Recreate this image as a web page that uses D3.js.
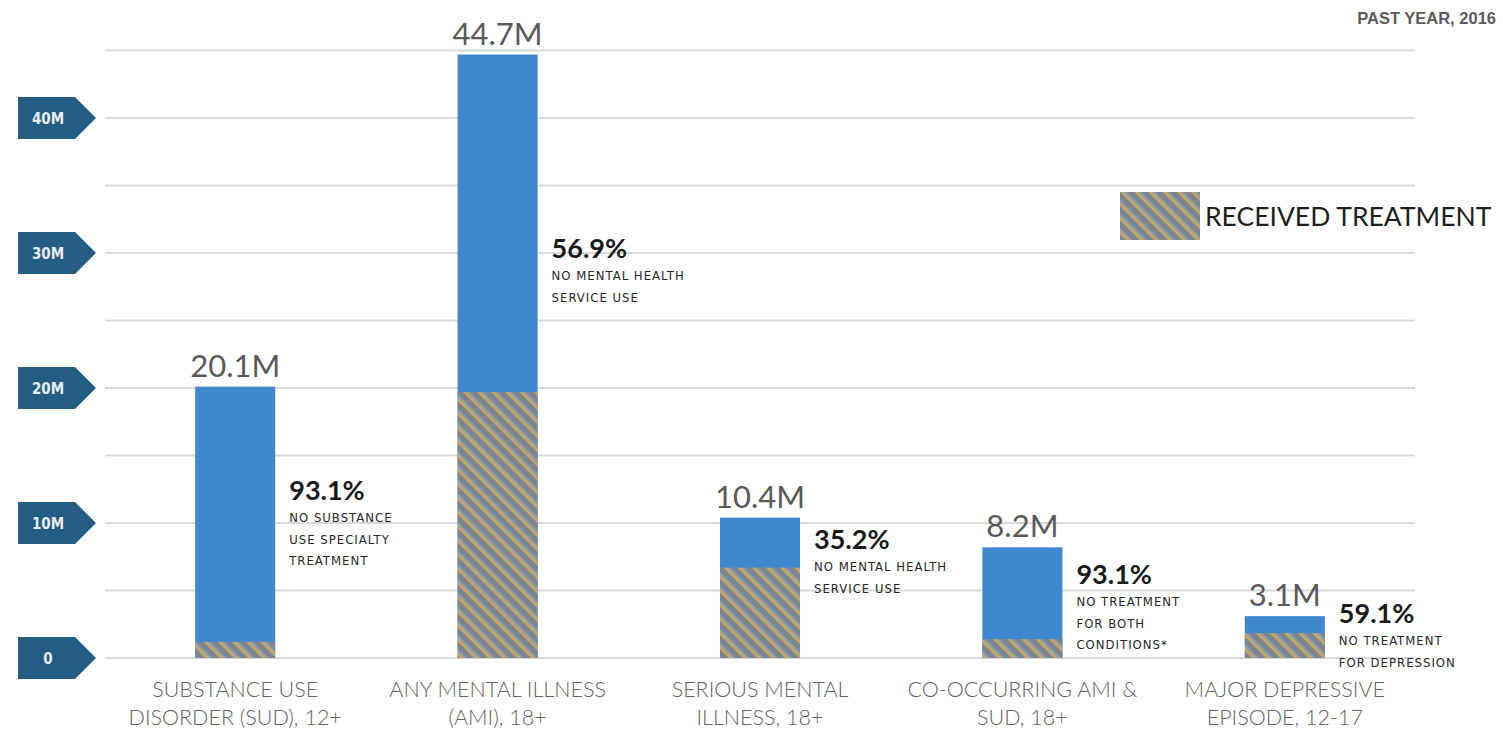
<!DOCTYPE html>
<html>
<head>
<meta charset="utf-8">
<script src="https://cdn.jsdelivr.net/npm/d3@7"></script>
<style>
  html, body { margin: 0; padding: 0; background: #fff; }
  svg { display: block; }
</style>
</head>
<body>
<svg id="chart" width="1503" height="731"></svg>
<script>
// Populations with a condition, past year 2016 (millions)
const categories = ["SUD", "AMI", "SMI", "COAMI", "MDE"];
const categoryLines = [
  ["SUBSTANCE USE", "DISORDER (SUD), 12+"],
  ["ANY MENTAL ILLNESS", "(AMI), 18+"],
  ["SERIOUS MENTAL", "ILLNESS, 18+"],
  ["CO-OCCURRING AMI &", "SUD, 18+"],
  ["MAJOR DEPRESSIVE", "EPISODE, 12-17"]
];
const totals = [20.1, 44.7, 10.4, 8.2, 3.1];
const totalLabels = ["20.1M", "44.7M", "10.4M", "8.2M", "3.1M"];
const treated = [1.2, 19.7, 6.7, 1.4, 1.85];
const untreatedPct = ["93.1%", "56.9%", "35.2%", "93.1%", "59.1%"];
const notes = [
  ["NO SUBSTANCE", "USE SPECIALTY", "TREATMENT"],
  ["NO MENTAL HEALTH", "SERVICE USE"],
  ["NO MENTAL HEALTH", "SERVICE USE"],
  ["NO TREATMENT", "FOR BOTH", "CONDITIONS*"],
  ["NO TREATMENT", "FOR DEPRESSION"]
];
const yTicks = [0, 10, 20, 30, 40];
const yTickLabels = ["0", "10M", "20M", "30M", "40M"];
const gridValues = [0, 5, 10, 15, 20, 25, 30, 35, 40, 45];

const svg = d3.select("#chart");
const blue = "#3f87cf";
const navy = "#245d84";
const gray = "#595959";

// Hatched fill for the treated share
const defs = svg.append("defs");
const pat = defs.append("pattern")
  .attr("id", "hatch")
  .attr("patternUnits", "userSpaceOnUse")
  .attr("width", 10).attr("height", 10)
  .attr("patternTransform", "rotate(-45)");
pat.append("rect").attr("width", 10).attr("height", 10).attr("fill", "#7a8590");
pat.append("rect").attr("x", 0).attr("width", 3.2).attr("height", 10).attr("fill", "#c2a567");
pat.append("rect").attr("x", 3.2).attr("width", 1.6).attr("height", 10).attr("fill", "#8aa0b8");

const x = d3.scaleBand()
  .domain(categories)
  .range([104, 1416])
  .paddingInner(0.695)
  .paddingOuter(0.3475);

const y = d3.scaleLinear().domain([0, 40]).range([658, 118]);

// Gridlines
svg.append("g").selectAll("line")
  .data(gridValues)
  .join("line")
  .attr("x1", 105).attr("x2", 1415)
  .attr("y1", d => y(d)).attr("y2", d => y(d))
  .attr("stroke", "#d9d9d9").attr("stroke-width", 2);

// Arrow-shaped value tags on the left
const tags = svg.append("g").selectAll("g")
  .data(yTicks)
  .join("g")
  .attr("transform", d => `translate(0,${y(d)})`);
tags.append("path")
  .attr("d", "M18,-21 L75,-21 L96,0 L75,21 L18,21 Z")
  .attr("fill", navy);
tags.append("text")
  .attr("x", 48).attr("y", 6)
  .attr("text-anchor", "middle")
  .attr("fill", "#e8eef3")
  .attr("font-family", "'DejaVu Sans Condensed', 'Liberation Sans Narrow', sans-serif")
  .attr("font-weight", "bold")
  .attr("font-size", 15)
  .text((d, i) => yTickLabels[i]);

// Bars: total then treated overlay
const bars = svg.append("g");
bars.selectAll("rect.total")
  .data(categories)
  .join("rect")
  .attr("class", "total")
  .attr("x", d => x(d))
  .attr("width", x.bandwidth())
  .attr("y", (d, i) => y(totals[i]))
  .attr("height", (d, i) => y(0) - y(totals[i]))
  .attr("fill", blue);
bars.selectAll("rect.treated")
  .data(categories)
  .join("rect")
  .attr("class", "treated")
  .attr("x", d => x(d))
  .attr("width", x.bandwidth())
  .attr("y", (d, i) => y(treated[i]))
  .attr("height", (d, i) => y(0) - y(treated[i]))
  .attr("fill", "url(#hatch)");

// Totals above bars
svg.append("g").selectAll("text")
  .data(categories)
  .join("text")
  .attr("x", d => x(d) + x.bandwidth() / 2)
  .attr("y", (d, i) => y(totals[i]) - 10)
  .attr("text-anchor", "middle")
  .attr("fill", gray)
  .attr("font-family", "Lato, 'Open Sans', sans-serif")
  .attr("font-size", 31)
  .text((d, i) => totalLabels[i]);

// Untreated share annotations
const annTop = [500, 258, 549, 584, 623];
const ann = svg.append("g").selectAll("g")
  .data(categories)
  .join("g")
  .attr("transform", (d, i) => `translate(${x(d) + x.bandwidth() + 14},${annTop[i]})`);
ann.append("text")
  .attr("fill", "#1a1a1a")
  .attr("font-family", "Lato, 'Open Sans', sans-serif")
  .attr("font-weight", "bold")
  .attr("font-size", 27)
  .text((d, i) => untreatedPct[i]);
ann.each(function(d, i) {
  d3.select(this).selectAll("text.note")
    .data(notes[i])
    .join("text")
    .attr("class", "note")
    .attr("y", (t, j) => 22 + j * 21.5)
    .attr("fill", "#262626")
    .attr("font-family", "'DejaVu Sans Condensed', 'Liberation Sans Narrow', sans-serif")
    .attr("font-size", 13)
    .attr("letter-spacing", 1)
    .text(t => t);
});

// Category labels
const cat = svg.append("g").selectAll("g")
  .data(categories)
  .join("g")
  .attr("transform", d => `translate(${x(d) + x.bandwidth() / 2},0)`);
cat.each(function(d, i) {
  d3.select(this).selectAll("text")
    .data(categoryLines[i])
    .join("text")
    .attr("y", (t, j) => 697 + j * 28)
    .attr("text-anchor", "middle")
    .attr("fill", "#626262")
    .attr("font-family", "Lato, 'Open Sans', sans-serif")
    .attr("font-weight", 300)
    .attr("font-size", 21.5)
    .text(t => t);
});

// Legend
const legend = svg.append("g").attr("transform", "translate(1120,192)");
legend.append("rect").attr("width", 80).attr("height", 48).attr("fill", "url(#hatch)");
legend.append("text")
  .attr("x", 85).attr("y", 34)
  .attr("fill", "#1f1f1f")
  .attr("font-family", "Lato, 'Open Sans', sans-serif")
  .attr("font-size", 26.5)
  .text("RECEIVED TREATMENT");

// Period note
svg.append("text")
  .attr("x", 1496).attr("y", 24)
  .attr("text-anchor", "end")
  .attr("fill", "#5a5a5a")
  .attr("font-family", "'Liberation Sans', Arial, sans-serif")
  .attr("font-weight", "bold")
  .attr("font-size", 16.5)
  .text("PAST YEAR, 2016");
</script>
</body>
</html>
